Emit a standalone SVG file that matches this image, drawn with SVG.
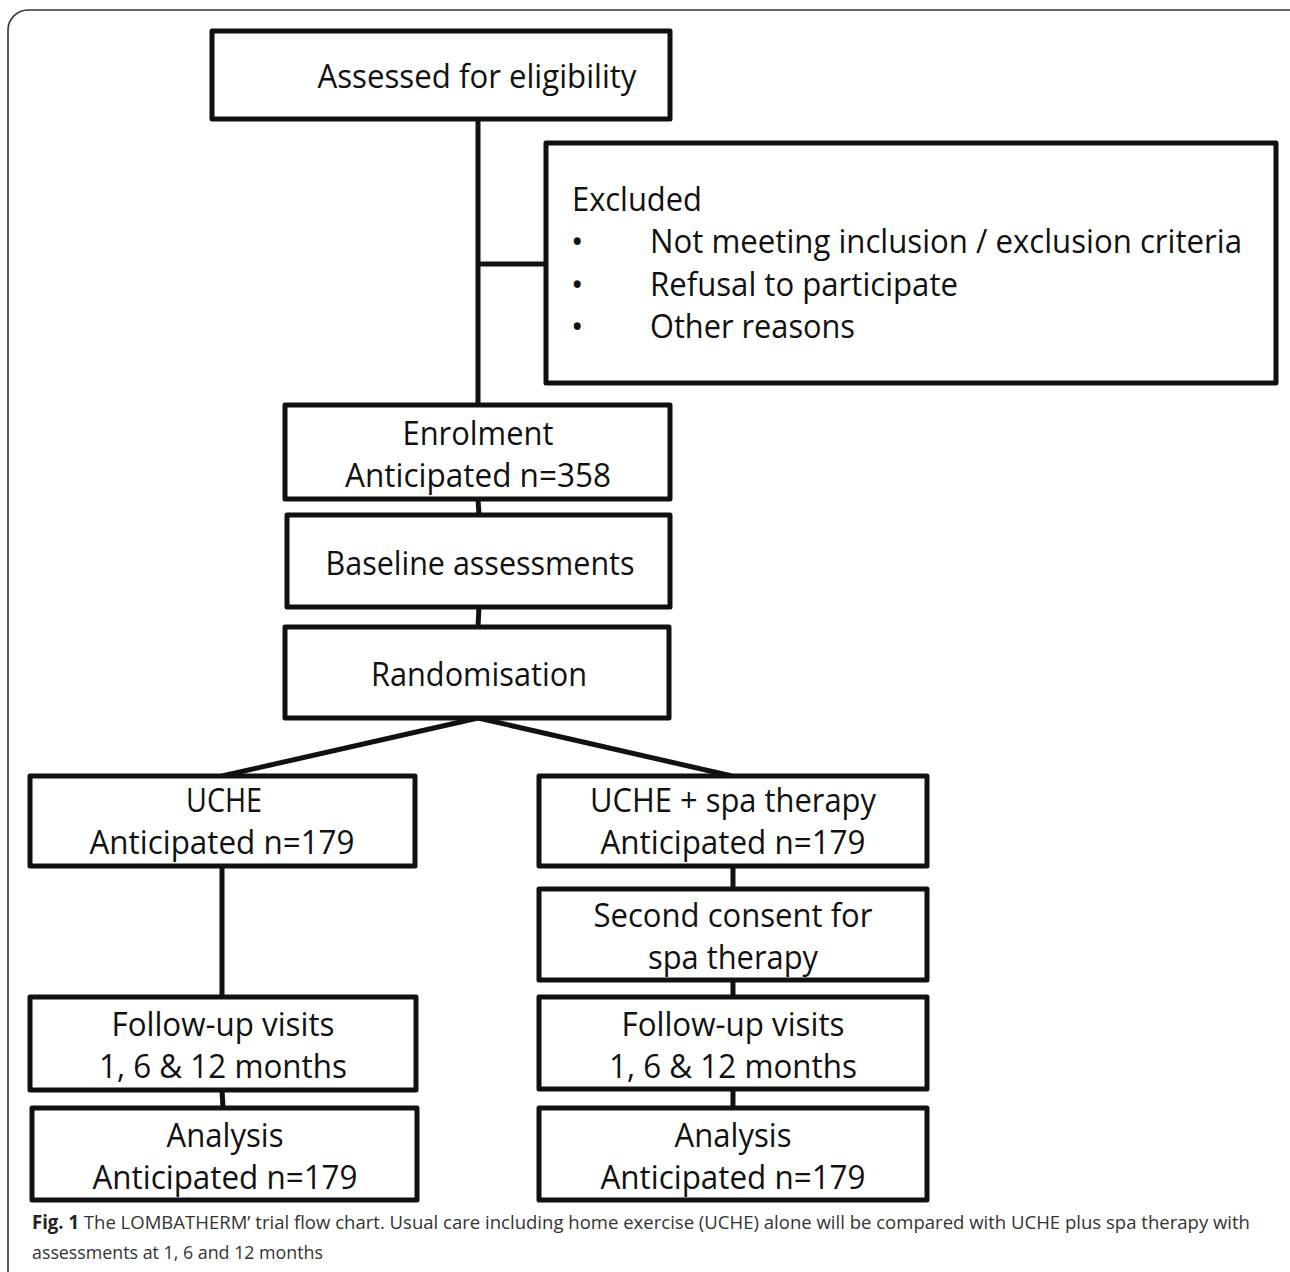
<svg xmlns="http://www.w3.org/2000/svg" width="1290" height="1272" viewBox="0 0 1290 1272">
<style>
.box{fill:#fff;stroke:#111;stroke-width:5;stroke-linejoin:round}
.con{stroke:#111;stroke-width:5;fill:none;stroke-linecap:butt}
.t{font-family:"Open Sans","Liberation Sans",sans-serif;font-size:33px;fill:#111}
.c{text-anchor:middle}
.cap{font-family:"Open Sans","Liberation Sans",sans-serif;font-size:19px;fill:#333}
</style>
<rect x="0" y="0" width="1290" height="1272" fill="#fff"/>
<rect x="8" y="10" width="1320" height="1320" rx="20" fill="none" stroke="#333" stroke-width="1.6"/>
<g id="connectors">
<line class="con" x1="478" y1="119" x2="478" y2="405"/>
<line class="con" x1="478" y1="264" x2="546" y2="264"/>
<line class="con" x1="478" y1="499" x2="479" y2="515"/>
<line class="con" x1="479" y1="607" x2="478" y2="627"/>
<line class="con" x1="478" y1="718" x2="222" y2="776"/>
<line class="con" x1="478" y1="718" x2="732" y2="776"/>
<line class="con" x1="222" y1="866" x2="222" y2="997"/>
<line class="con" x1="733" y1="866" x2="733" y2="889"/>
<line class="con" x1="733" y1="980" x2="733" y2="997"/>
<line class="con" x1="222" y1="1090" x2="223" y2="1108"/>
<line class="con" x1="733" y1="1089" x2="733" y2="1108"/>
</g>
<g id="assessed">
<rect class="box" x="212" y="31" width="458" height="88"/>
<text class="t c" x="477" y="88" textLength="319" lengthAdjust="spacingAndGlyphs">Assessed for eligibility</text>
</g>
<g id="excluded">
<rect class="box" x="546" y="143" width="730" height="240"/>
<text class="t" x="572" y="211" textLength="130" lengthAdjust="spacingAndGlyphs">Excluded</text>
<text class="t" x="571" y="253">•</text>
<text class="t" x="650" y="253" textLength="592" lengthAdjust="spacingAndGlyphs">Not meeting inclusion / exclusion criteria</text>
<text class="t" x="571" y="296">•</text>
<text class="t" x="650" y="296" textLength="308" lengthAdjust="spacingAndGlyphs">Refusal to participate</text>
<text class="t" x="571" y="338">•</text>
<text class="t" x="650" y="338" textLength="205" lengthAdjust="spacingAndGlyphs">Other reasons</text>
</g>
<g id="enrolment">
<rect class="box" x="285" y="405" width="385" height="94"/>
<text class="t c" x="478" y="445" textLength="151" lengthAdjust="spacingAndGlyphs">Enrolment</text>
<text class="t c" x="478" y="487" textLength="266" lengthAdjust="spacingAndGlyphs">Anticipated n=358</text>
</g>
<g id="baseline">
<rect class="box" x="287" y="515" width="383" height="92"/>
<text class="t c" x="480" y="575" textLength="309" lengthAdjust="spacingAndGlyphs">Baseline assessments</text>
</g>
<g id="randomisation">
<rect class="box" x="285" y="627" width="384" height="91"/>
<text class="t c" x="479" y="686" textLength="216" lengthAdjust="spacingAndGlyphs">Randomisation</text>
</g>
<g id="uche">
<rect class="box" x="30" y="776" width="385" height="90"/>
<text class="t c" x="224" y="812" textLength="76" lengthAdjust="spacingAndGlyphs">UCHE</text>
<text class="t c" x="222" y="854" textLength="265" lengthAdjust="spacingAndGlyphs">Anticipated n=179</text>
</g>
<g id="uche-spa">
<rect class="box" x="539" y="776" width="388" height="90"/>
<text class="t c" x="733" y="812" textLength="286" lengthAdjust="spacingAndGlyphs">UCHE + spa therapy</text>
<text class="t c" x="733" y="854" textLength="265" lengthAdjust="spacingAndGlyphs">Anticipated n=179</text>
</g>
<g id="second-consent">
<rect class="box" x="539" y="889" width="388" height="91"/>
<text class="t c" x="733" y="927" textLength="279" lengthAdjust="spacingAndGlyphs">Second consent for</text>
<text class="t c" x="733" y="969" textLength="170" lengthAdjust="spacingAndGlyphs">spa therapy</text>
</g>
<g id="followup-left">
<rect class="box" x="30" y="997" width="386" height="93"/>
<text class="t c" x="223" y="1036" textLength="223" lengthAdjust="spacingAndGlyphs">Follow-up visits</text>
<text class="t c" x="223" y="1078" textLength="248" lengthAdjust="spacingAndGlyphs">1, 6 &amp; 12 months</text>
</g>
<g id="followup-right">
<rect class="box" x="539" y="997" width="388" height="92"/>
<text class="t c" x="733" y="1036" textLength="223" lengthAdjust="spacingAndGlyphs">Follow-up visits</text>
<text class="t c" x="733" y="1078" textLength="248" lengthAdjust="spacingAndGlyphs">1, 6 &amp; 12 months</text>
</g>
<g id="analysis-left">
<rect class="box" x="32" y="1108" width="385" height="92"/>
<text class="t c" x="225" y="1147" textLength="117" lengthAdjust="spacingAndGlyphs">Analysis</text>
<text class="t c" x="225" y="1189" textLength="265" lengthAdjust="spacingAndGlyphs">Anticipated n=179</text>
</g>
<g id="analysis-right">
<rect class="box" x="539" y="1108" width="388" height="92"/>
<text class="t c" x="733" y="1147" textLength="117" lengthAdjust="spacingAndGlyphs">Analysis</text>
<text class="t c" x="733" y="1189" textLength="265" lengthAdjust="spacingAndGlyphs">Anticipated n=179</text>
</g>
<g id="caption">
<text class="cap" x="32" y="1229" textLength="1218" lengthAdjust="spacingAndGlyphs"><tspan font-weight="bold" fill="#222">Fig. 1</tspan> The LOMBATHERM’ trial flow chart. Usual care including home exercise (UCHE) alone will be compared with UCHE plus spa therapy with</text>
<text class="cap" x="32" y="1259" textLength="291" lengthAdjust="spacingAndGlyphs">assessments at 1, 6 and 12 months</text>
</g>
</svg>
